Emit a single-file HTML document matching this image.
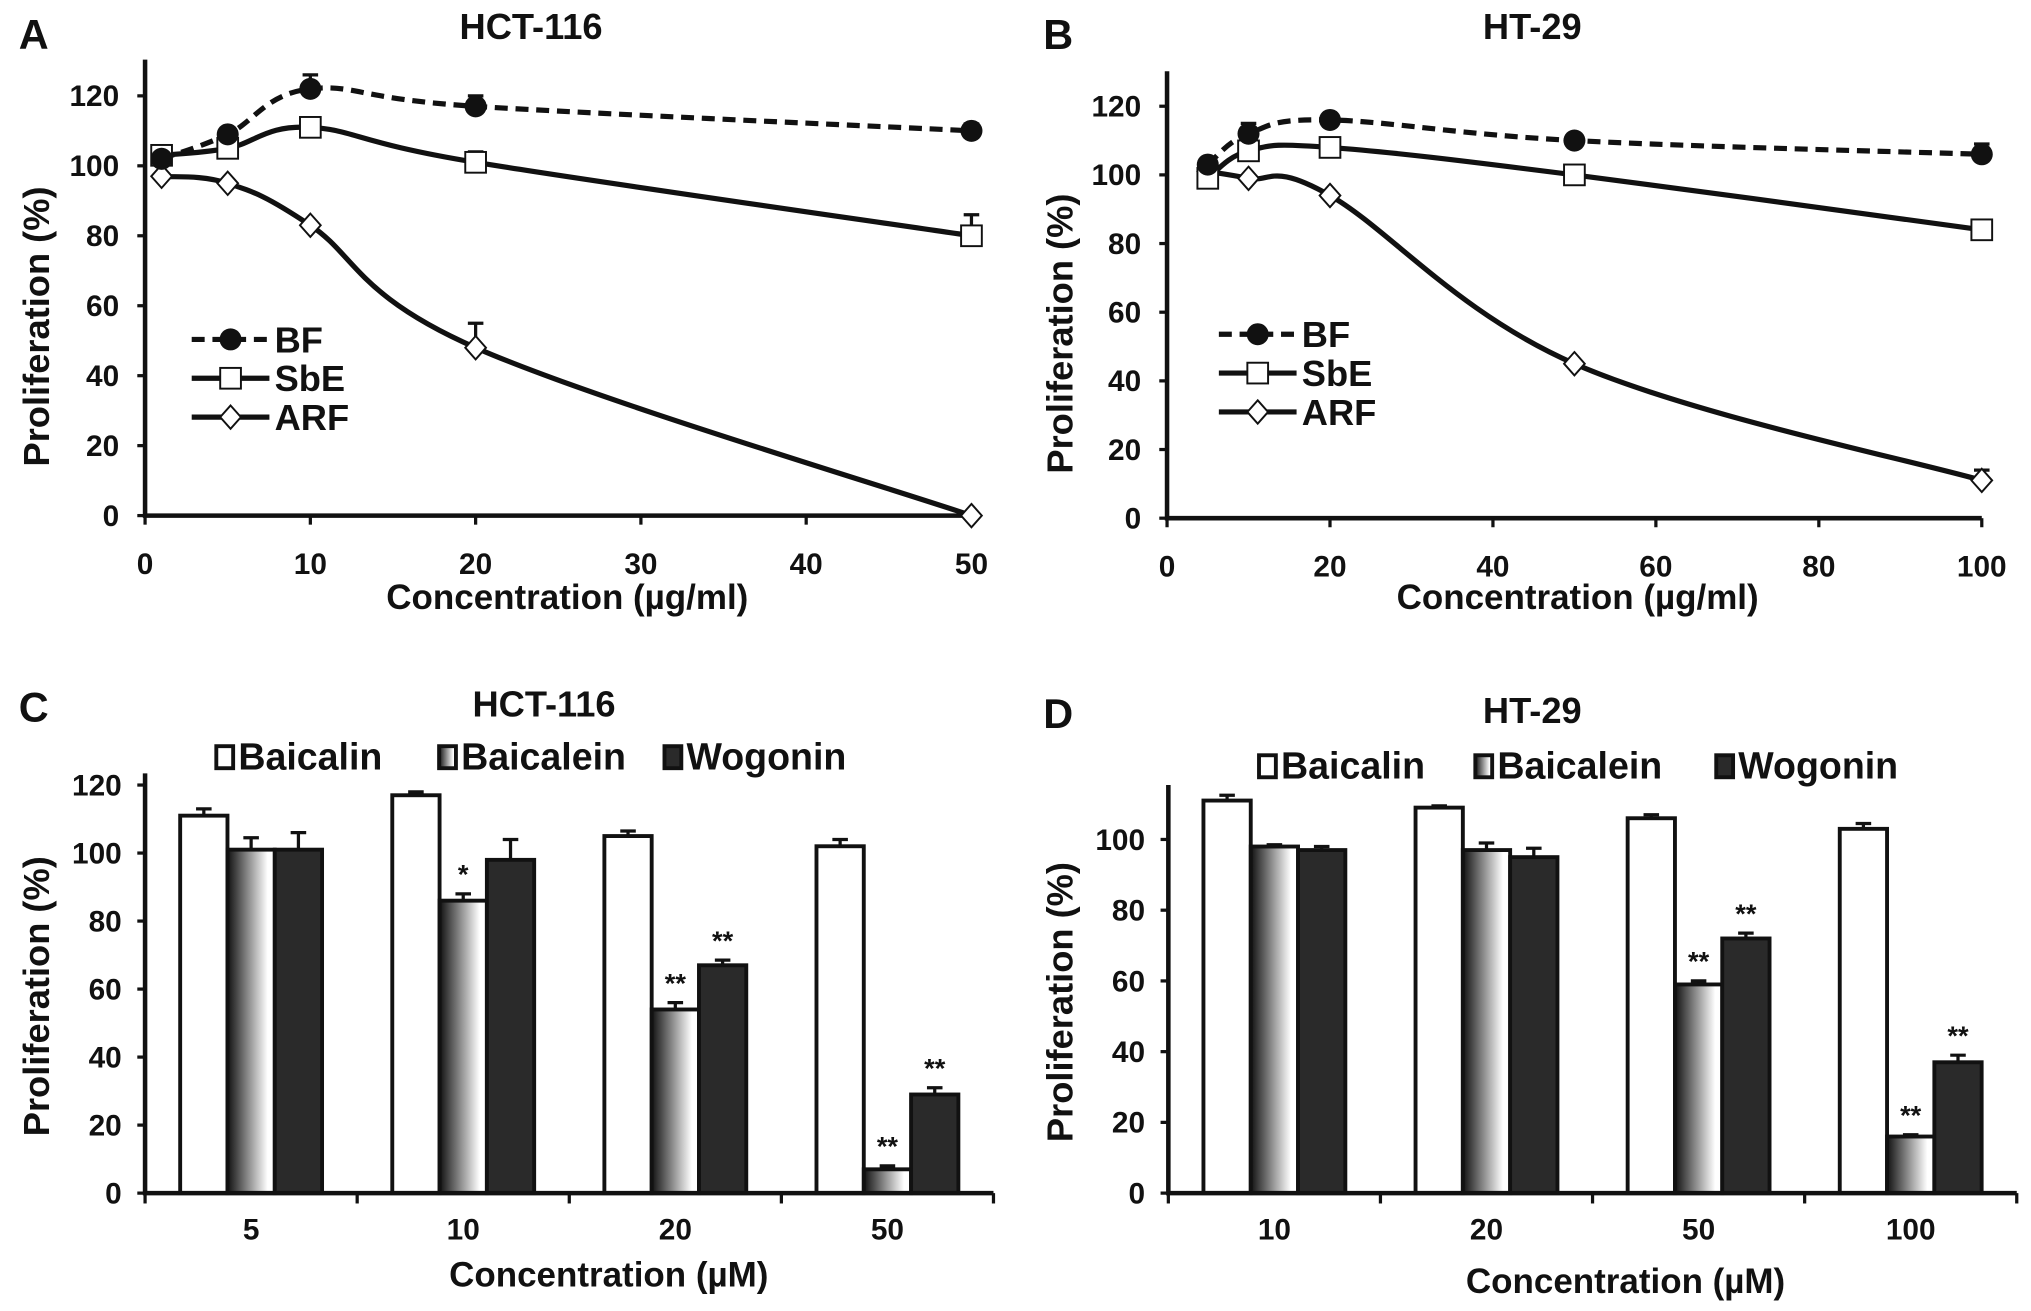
<!DOCTYPE html>
<html><head><meta charset="utf-8"><style>
html,body{margin:0;padding:0;background:#fff}
svg{display:block}
text{font-family:"Liberation Sans Narrow","Liberation Sans",sans-serif;font-weight:bold;fill:#111}
</style></head><body>
<svg id="fig" width="2031" height="1311" viewBox="0 0 1568 1012" preserveAspectRatio="none" xmlns="http://www.w3.org/2000/svg">
<defs><linearGradient id="grad" x1="0" x2="1" y1="0" y2="0"><stop offset="0" stop-color="#111"/><stop offset="0.85" stop-color="#fff"/><stop offset="1" stop-color="#fff"/></linearGradient></defs>
</svg>
<script>
// Panel A data
const aX = [1,5,10,20,50];
const aBF = [102,109,122,117,110];
const aSbE = [103,105,111,101,80];
const aARF = [97,95,83,48,0];
const aBFerr = [0,0,4,3,2];
const aSbEerr = [0,0,0,3,6];
const aARFerr = [0,0,0,7,0];
const aXticks = [0,10,20,30,40,50];
const aYticks = [0,20,40,60,80,100,120];
// Panel B data
const bX = [5,10,20,50,100];
const bBF = [103,112,116,110,106];
const bSbE = [99,107,108,100,84];
const bARF = [101,99,94,45,11];
const bBFerr = [0,3,1,1,3];
const bSbEerr = [0,0,0,0,0];
const bARFerr = [0,0,0,0,3];
const bXticks = [0,20,40,60,80,100];
const bYticks = [0,20,40,60,80,100,120];
// Panel C data
const cCats = ['5','10','20','50'];
const cBaicalin = [111,117,105,102];
const cBaicalein = [101,86,54,7];
const cWogonin = [101,98,67,29];
const cBaicalinErr = [2,1,1.5,2];
const cBaicaleinErr = [3.5,2,2,1];
const cWogoninErr = [5,6,1.5,2];
const cBaicaleinStars = ['','*','**','**'];
const cWogoninStars = ['','','**','**'];
const cYticks = [0,20,40,60,80,100,120];
// Panel D data
const dCats = ['10','20','50','100'];
const dBaicalin = [111,109,106,103];
const dBaicalein = [98,97,59,16];
const dWogonin = [97,95,72,37];
const dBaicalinErr = [1.5,0.5,1,1.5];
const dBaicaleinErr = [0.5,2,1,0.5];
const dWogoninErr = [1,2.5,1.5,2];
const dBaicaleinStars = ['','','**','**'];
const dWogoninStars = ['','','**','**'];
const dYticks = [0,20,40,60,80,100];

const svg = document.getElementById('fig');
const NS = 'http://www.w3.org/2000/svg';
function el(tag, attrs, parent){const e=document.createElementNS(NS,tag);for(const k in attrs)e.setAttribute(k,attrs[k]);(parent||svg).appendChild(e);return e;}
function txt(s,x,y,size,anchor,parent){const t=el('text',{x:x,y:y,'font-size':size,'text-anchor':anchor||'middle'},parent);t.textContent=s;return t;}

function smooth(pts){
  let d='M'+pts[0][0]+','+pts[0][1];
  for(let i=0;i<pts.length-1;i++){
    const p0=pts[i-1]||pts[i],p1=pts[i],p2=pts[i+1],p3=pts[i+2]||p2;
    const t=0.18;
    d+=' C'+(p1[0]+(p2[0]-p0[0])*t)+','+(p1[1]+(p2[1]-p0[1])*t)+' '+(p2[0]-(p3[0]-p1[0])*t)+','+(p2[1]-(p3[1]-p1[1])*t)+' '+p2[0]+','+p2[1];
  }
  return d;
}

function linePanel(cfg){
  const g=el('g',{});
  
  
  const sx=v=>cfg.x0+(v-cfg.xmin)/(cfg.xmax-cfg.xmin)*(cfg.x1-cfg.x0);
  const sy=v=>cfg.y0-(v/120)*(cfg.y0-cfg.y120);
  const ax=el('path',{d:'M'+cfg.x0+','+cfg.top+' V'+cfg.y0+' H'+cfg.x1,stroke:'#111','stroke-width':3.5,fill:'none'},g);
  
  
  cfg.yt.forEach(v=>{el('line',{x1:cfg.x0-6,x2:cfg.x0,y1:sy(v),y2:sy(v),stroke:'#111','stroke-width':2.5},g);
    const t=txt(v,cfg.x0-20,sy(v)+8,23,'end',g);
    
    });
  cfg.xt.forEach(v=>{el('line',{x1:sx(v),x2:sx(v),y1:cfg.y0,y2:cfg.y0+7,stroke:'#111','stroke-width':2.5},g);
    const t=txt(v,sx(v),cfg.y0+45,23,'middle',g);
    
    });
  const series=[{n:'BF',v:cfg.bf,e:cfg.bfe,dash:'10,6',m:'circle'},{n:'SbE',v:cfg.sbe,e:cfg.sbee,dash:'',m:'square'},{n:'ARF',v:cfg.arf,e:cfg.arfe,dash:'',m:'diamond'}];
  series.slice().reverse().forEach(s=>{
    const pts=cfg.xs.map((x,i)=>[sx(x),sy(s.v[i])]);
    const p=el('path',{d:smooth(pts),stroke:'#111','stroke-width':4,fill:'none','stroke-dasharray':s.dash},g);
    
    
    pts.forEach((pt,i)=>{
      if(s.e[i]>0){const ye=sy(s.v[i]+s.e[i]);el('path',{d:'M'+pt[0]+','+pt[1]+' V'+ye+' M'+(pt[0]-6)+','+ye+' H'+(pt[0]+6),stroke:'#111','stroke-width':2.5},g);}
      let m;
      if(s.m==='circle')m=el('circle',{cx:pt[0],cy:pt[1],r:8.5,fill:'#111'},g);
      else if(s.m==='square')m=el('rect',{x:pt[0]-8,y:pt[1]-8,width:16,height:16,fill:'#fff',stroke:'#111','stroke-width':1.5},g);
      else m=el('path',{d:'M'+pt[0]+','+(pt[1]-9)+' L'+(pt[0]+8)+','+pt[1]+' L'+pt[0]+','+(pt[1]+9)+' L'+(pt[0]-8)+','+pt[1]+'Z',fill:'#fff',stroke:'#111','stroke-width':1.5},g);
      
      
    });
  });
  series.forEach((s,i)=>{
    const y=cfg.ly+i*30,x=cfg.lx;
    const lg=el('g',{},g);
    
    
    el('line',{x1:x,x2:x+60,y1:y,y2:y,stroke:'#111','stroke-width':4,'stroke-dasharray':s.dash},lg);
    if(s.m==='circle')el('circle',{cx:x+30,cy:y,r:8.5,fill:'#111'},lg);
    else if(s.m==='square')el('rect',{x:x+22,y:y-8,width:16,height:16,fill:'#fff',stroke:'#111','stroke-width':1.5},lg);
    else el('path',{d:'M'+(x+30)+','+(y-9)+' L'+(x+38)+','+y+' L'+(x+30)+','+(y+9)+' L'+(x+22)+','+y+'Z',fill:'#fff',stroke:'#111','stroke-width':1.5},lg);
    txt(s.n,x+64,y+10,28,'start',lg);
  });
  let t=txt(cfg.title,cfg.tx,30,28,'middle',g);
  t=txt(cfg.letter,cfg.lx0,38,32,'middle',g);
  t=txt('Concentration (µg/ml)',cfg.xlx,470,27,'middle',g);
  t=txt('Proliferation (%)',0,0,28,'middle',g);t.setAttribute('transform','translate('+cfg.ylx+','+((cfg.y0+cfg.top)/2+30)+') rotate(-90)');
  
}

linePanel({name:'panel-a',x0:112,x1:750,xmin:0,xmax:50,y0:398,y120:74,top:46,xs:aX,bf:aBF,sbe:aSbE,arf:aARF,bfe:aBFerr,sbee:aSbEerr,arfe:aARFerr,xt:aXticks,yt:aYticks,lx:148,ly:262,title:'HCT-116',tx:410,letter:'A',lx0:26,xlx:438,ylx:38});
linePanel({name:'panel-b',x0:901,x1:1530,xmin:0,xmax:100,y0:400,y120:82,top:55,xs:bX,bf:bBF,sbe:bSbE,arf:bARF,bfe:bBFerr,sbee:bSbEerr,arfe:bARFerr,xt:bXticks,yt:bYticks,lx:941,ly:258,title:'HT-29',tx:1183,letter:'B',lx0:817,xlx:1218,ylx:828});

function barPanel(cfg){
  const g=el('g',{});
  
  
  const n=cfg.cats.length, gw=(cfg.x1-cfg.x0)/n, bw=gw*0.223;
  const sy=v=>cfg.y0-(v/100)*(cfg.y0-cfg.y100);
  const series=[{n:'Baicalin',v:cfg.s1,e:cfg.e1,fill:'#fff',st:null},{n:'Baicalein',v:cfg.s2,e:cfg.e2,fill:'url(#grad)',st:cfg.st2},{n:'Wogonin',v:cfg.s3,e:cfg.e3,fill:'#2a2a2a',st:cfg.st3}];
  cfg.cats.forEach((c,i)=>{
    const cx=cfg.x0+gw*(i+0.5);
    series.forEach((s,j)=>{
      const x=cx+(j-1.5)*bw, y=sy(s.v[i]);
      const ye=sy(s.v[i]+s.e[i]);
      el('path',{d:'M'+(x+bw/2)+','+y+' V'+ye+' M'+(x+bw/2-6)+','+ye+' H'+(x+bw/2+6),stroke:'#111','stroke-width':2.5},g);
      const r=el('rect',{x:x,y:y,width:bw,height:cfg.y0-y,fill:s.fill,stroke:'#111','stroke-width':3},g);
      
      
      if(s.st&&s.st[i]){const t=txt(s.st[i],x+bw/2,ye-8,21,'middle',g);}
    });
    const t=txt(c,cx,cfg.y0+36,23,'middle',g);
    
    
  });
  const ax=el('path',{d:'M'+cfg.x0+','+cfg.top+' V'+cfg.y0+' H'+cfg.x1,stroke:'#111','stroke-width':3.5,fill:'none'},g);
  
  
  for(let i=0;i<=n;i++){const x=cfg.x0+gw*i;el('line',{x1:x,x2:x,y1:cfg.y0,y2:cfg.y0+8,stroke:'#111','stroke-width':2.5},g);}
  cfg.yt.forEach(v=>{el('line',{x1:cfg.x0-6,x2:cfg.x0,y1:sy(v),y2:sy(v),stroke:'#111','stroke-width':2.5},g);
    const t=txt(v,cfg.x0-18,sy(v)+8,23,'end',g);
    
    });
  const lpos=cfg.lgx;
  series.forEach((s,j)=>{
    const lg=el('g',{},g);
    
    
    el('rect',{x:lpos[j],y:cfg.lgy-18,width:13,height:17,fill:s.fill,stroke:'#111','stroke-width':3},lg);
    txt(s.n,lpos[j]+17,cfg.lgy,29,'start',lg);
  });
  let t=txt(cfg.title,cfg.tx,cfg.ty,28,'middle',g);
  t=txt(cfg.letter,cfg.lx0,cfg.ty+4,32,'middle',g);
  t=txt('Concentration (µM)',cfg.xlx,cfg.xly,27,'middle',g);
  t=txt('Proliferation (%)',0,0,28,'middle',g);t.setAttribute('transform','translate('+cfg.ylx+','+((cfg.y0+cfg.top)/2+10)+') rotate(-90)');
  
}

barPanel({name:'panel-c',x0:112,x1:767,y0:921,y100:658.5,top:597,cats:cCats,s1:cBaicalin,s2:cBaicalein,s3:cWogonin,e1:cBaicalinErr,e2:cBaicaleinErr,e3:cWogoninErr,st2:cBaicaleinStars,st3:cWogoninStars,yt:cYticks,lgx:[167,339,513],lgy:594,title:'HCT-116',tx:420,ty:553,letter:'C',lx0:26,xlx:470,xly:993,ylx:38});
barPanel({name:'panel-d',x0:902,x1:1557,y0:921,y100:648,top:606,cats:dCats,s1:dBaicalin,s2:dBaicalein,s3:dWogonin,e1:dBaicalinErr,e2:dBaicaleinErr,e3:dWogoninErr,st2:dBaicaleinStars,st3:dWogoninStars,yt:dYticks,lgx:[972,1139,1325],lgy:601,title:'HT-29',tx:1183,ty:558,letter:'D',lx0:817,xlx:1255,xly:998,ylx:828});
</script>
</body></html>
